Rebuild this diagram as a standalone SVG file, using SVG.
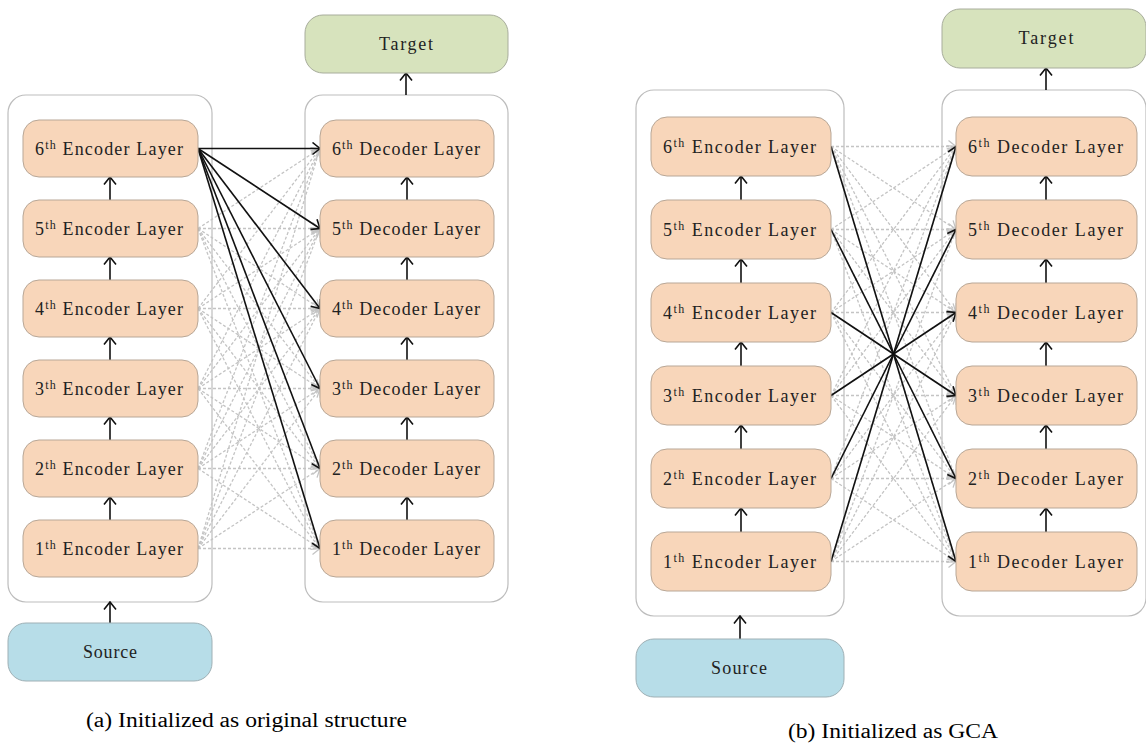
<svg xmlns="http://www.w3.org/2000/svg" width="1146" height="744" viewBox="0 0 1146 744">
<style>
.cont{fill:#fff;stroke:#bdbdbd;stroke-width:1.2}
.layer{fill:#f8d6ba;stroke:#b8a797;stroke-width:1}
.tgt{fill:#d7e3bd;stroke:#a8ad9c;stroke-width:1}
.src{fill:#b7dde8;stroke:#9fb0b5;stroke-width:1}
.lbl{font-family:"Liberation Serif","Times New Roman",serif;font-size:18px;fill:#222;text-anchor:middle}
.cap{font-family:"Liberation Serif","Times New Roman",serif;font-size:20px;fill:#000}
.solid{stroke:#111;stroke-width:1.6;fill:none}
.arr{marker-end:url(#ah)}
.dash{stroke:#c4c4c4;stroke-width:1.3;stroke-dasharray:3 2;fill:none;marker-end:url(#ahg)}
.up{stroke:#111;stroke-width:1.6;fill:none;marker-end:url(#ah)}
</style>
<defs>
<marker id="ah" viewBox="0 0 10 14" refX="8.5" refY="7" markerWidth="10" markerHeight="14" markerUnits="userSpaceOnUse" orient="auto">
<path d="M1,1 L8.5,7 L1,13" fill="none" stroke="#111" stroke-width="1.6"/>
</marker>
<marker id="ahg" viewBox="0 0 10 14" refX="8.5" refY="7" markerWidth="10" markerHeight="14" markerUnits="userSpaceOnUse" orient="auto">
<path d="M1,1 L8.5,7 L1,13" fill="none" stroke="#c4c4c4" stroke-width="1.3"/>
</marker>
</defs>
<rect width="1146" height="744" fill="#fff"/>

<!-- Panel (a) containers -->
<g id="a-encoder-stack"><rect class="cont" x="8" y="95" width="204" height="507" rx="18"/></g>
<g id="a-decoder-stack"><rect class="cont" x="305" y="95" width="203" height="507" rx="18"/></g>

<!-- Panel (b) containers -->
<g id="b-encoder-stack"><rect class="cont" x="636" y="90" width="208" height="526" rx="18"/></g>
<g id="b-decoder-stack"><rect class="cont" x="942" y="90" width="204" height="526" rx="18"/></g>

<!-- connectors -->
<g id="connectors">
<line class="dash" x1="198" y1="228.5" x2="320" y2="148.5"/>
<line class="dash" x1="198" y1="228.5" x2="320" y2="228.5"/>
<line class="dash" x1="198" y1="228.5" x2="320" y2="308.5"/>
<line class="dash" x1="198" y1="228.5" x2="320" y2="388.5"/>
<line class="dash" x1="198" y1="228.5" x2="320" y2="468.5"/>
<line class="dash" x1="198" y1="228.5" x2="320" y2="548.5"/>
<line class="dash" x1="198" y1="308.5" x2="320" y2="148.5"/>
<line class="dash" x1="198" y1="308.5" x2="320" y2="228.5"/>
<line class="dash" x1="198" y1="308.5" x2="320" y2="308.5"/>
<line class="dash" x1="198" y1="308.5" x2="320" y2="388.5"/>
<line class="dash" x1="198" y1="308.5" x2="320" y2="468.5"/>
<line class="dash" x1="198" y1="308.5" x2="320" y2="548.5"/>
<line class="dash" x1="198" y1="388.5" x2="320" y2="148.5"/>
<line class="dash" x1="198" y1="388.5" x2="320" y2="228.5"/>
<line class="dash" x1="198" y1="388.5" x2="320" y2="308.5"/>
<line class="dash" x1="198" y1="388.5" x2="320" y2="388.5"/>
<line class="dash" x1="198" y1="388.5" x2="320" y2="468.5"/>
<line class="dash" x1="198" y1="388.5" x2="320" y2="548.5"/>
<line class="dash" x1="198" y1="468.5" x2="320" y2="148.5"/>
<line class="dash" x1="198" y1="468.5" x2="320" y2="228.5"/>
<line class="dash" x1="198" y1="468.5" x2="320" y2="308.5"/>
<line class="dash" x1="198" y1="468.5" x2="320" y2="388.5"/>
<line class="dash" x1="198" y1="468.5" x2="320" y2="468.5"/>
<line class="dash" x1="198" y1="468.5" x2="320" y2="548.5"/>
<line class="dash" x1="198" y1="548.5" x2="320" y2="148.5"/>
<line class="dash" x1="198" y1="548.5" x2="320" y2="228.5"/>
<line class="dash" x1="198" y1="548.5" x2="320" y2="308.5"/>
<line class="dash" x1="198" y1="548.5" x2="320" y2="388.5"/>
<line class="dash" x1="198" y1="548.5" x2="320" y2="468.5"/>
<line class="dash" x1="198" y1="548.5" x2="320" y2="548.5"/>
<line class="solid arr" x1="198" y1="148.5" x2="320" y2="148.5"/>
<line class="solid arr" x1="198" y1="148.5" x2="320" y2="228.5"/>
<line class="solid arr" x1="198" y1="148.5" x2="320" y2="308.5"/>
<line class="solid arr" x1="198" y1="148.5" x2="320" y2="388.5"/>
<line class="solid arr" x1="198" y1="148.5" x2="320" y2="468.5"/>
<line class="solid arr" x1="198" y1="148.5" x2="320" y2="548.5"/>
<line class="up" x1="110" y1="200" x2="110" y2="177"/>
<line class="up" x1="110" y1="280" x2="110" y2="257"/>
<line class="up" x1="110" y1="360" x2="110" y2="337"/>
<line class="up" x1="110" y1="440" x2="110" y2="417"/>
<line class="up" x1="110" y1="520" x2="110" y2="497"/>
<line class="up" x1="407" y1="200" x2="407" y2="177"/>
<line class="up" x1="407" y1="280" x2="407" y2="257"/>
<line class="up" x1="407" y1="360" x2="407" y2="337"/>
<line class="up" x1="407" y1="440" x2="407" y2="417"/>
<line class="up" x1="407" y1="520" x2="407" y2="497"/>
<line class="up" x1="110" y1="623" x2="110" y2="602"/>
<line class="up" x1="406" y1="95" x2="406" y2="73"/>

<line class="dash" x1="831" y1="146.5" x2="956" y2="146.5"/>
<line class="dash" x1="831" y1="146.5" x2="956" y2="229.5"/>
<line class="dash" x1="831" y1="146.5" x2="956" y2="312.5"/>
<line class="dash" x1="831" y1="146.5" x2="956" y2="395.5"/>
<line class="dash" x1="831" y1="146.5" x2="956" y2="478.5"/>
<line class="dash" x1="831" y1="146.5" x2="956" y2="561.5"/>
<line class="dash" x1="831" y1="229.5" x2="956" y2="146.5"/>
<line class="dash" x1="831" y1="229.5" x2="956" y2="229.5"/>
<line class="dash" x1="831" y1="229.5" x2="956" y2="312.5"/>
<line class="dash" x1="831" y1="229.5" x2="956" y2="395.5"/>
<line class="dash" x1="831" y1="229.5" x2="956" y2="478.5"/>
<line class="dash" x1="831" y1="229.5" x2="956" y2="561.5"/>
<line class="dash" x1="831" y1="312.5" x2="956" y2="146.5"/>
<line class="dash" x1="831" y1="312.5" x2="956" y2="229.5"/>
<line class="dash" x1="831" y1="312.5" x2="956" y2="312.5"/>
<line class="dash" x1="831" y1="312.5" x2="956" y2="395.5"/>
<line class="dash" x1="831" y1="312.5" x2="956" y2="478.5"/>
<line class="dash" x1="831" y1="312.5" x2="956" y2="561.5"/>
<line class="dash" x1="831" y1="395.5" x2="956" y2="146.5"/>
<line class="dash" x1="831" y1="395.5" x2="956" y2="229.5"/>
<line class="dash" x1="831" y1="395.5" x2="956" y2="312.5"/>
<line class="dash" x1="831" y1="395.5" x2="956" y2="395.5"/>
<line class="dash" x1="831" y1="395.5" x2="956" y2="478.5"/>
<line class="dash" x1="831" y1="395.5" x2="956" y2="561.5"/>
<line class="dash" x1="831" y1="478.5" x2="956" y2="146.5"/>
<line class="dash" x1="831" y1="478.5" x2="956" y2="229.5"/>
<line class="dash" x1="831" y1="478.5" x2="956" y2="312.5"/>
<line class="dash" x1="831" y1="478.5" x2="956" y2="395.5"/>
<line class="dash" x1="831" y1="478.5" x2="956" y2="478.5"/>
<line class="dash" x1="831" y1="478.5" x2="956" y2="561.5"/>
<line class="dash" x1="831" y1="561.5" x2="956" y2="146.5"/>
<line class="dash" x1="831" y1="561.5" x2="956" y2="229.5"/>
<line class="dash" x1="831" y1="561.5" x2="956" y2="312.5"/>
<line class="dash" x1="831" y1="561.5" x2="956" y2="395.5"/>
<line class="dash" x1="831" y1="561.5" x2="956" y2="478.5"/>
<line class="dash" x1="831" y1="561.5" x2="956" y2="561.5"/>
<line class="solid" x1="831" y1="146.5" x2="893.5" y2="354"/>
<line class="solid" x1="831" y1="229.5" x2="893.5" y2="354"/>
<line class="solid" x1="831" y1="312.5" x2="893.5" y2="354"/>
<line class="solid" x1="831" y1="395.5" x2="893.5" y2="354"/>
<line class="solid" x1="831" y1="478.5" x2="893.5" y2="354"/>
<line class="solid" x1="831" y1="561.5" x2="893.5" y2="354"/>
<line class="solid arr" x1="893.5" y1="354" x2="956" y2="146.5"/>
<line class="solid arr" x1="893.5" y1="354" x2="956" y2="229.5"/>
<line class="solid arr" x1="893.5" y1="354" x2="956" y2="312.5"/>
<line class="solid arr" x1="893.5" y1="354" x2="956" y2="395.5"/>
<line class="solid arr" x1="893.5" y1="354" x2="956" y2="478.5"/>
<line class="solid arr" x1="893.5" y1="354" x2="956" y2="561.5"/>
<line class="up" x1="741" y1="200" x2="741" y2="176"/>
<line class="up" x1="741" y1="283" x2="741" y2="259"/>
<line class="up" x1="741" y1="366" x2="741" y2="342"/>
<line class="up" x1="741" y1="449" x2="741" y2="425"/>
<line class="up" x1="741" y1="532" x2="741" y2="508"/>
<line class="up" x1="1046" y1="200" x2="1046" y2="176"/>
<line class="up" x1="1046" y1="283" x2="1046" y2="259"/>
<line class="up" x1="1046" y1="366" x2="1046" y2="342"/>
<line class="up" x1="1046" y1="449" x2="1046" y2="425"/>
<line class="up" x1="1046" y1="532" x2="1046" y2="508"/>
<line class="up" x1="740" y1="639" x2="740" y2="616"/>
<line class="up" x1="1046" y1="90" x2="1046" y2="68"/>
</g>

<g id="a-target"><rect class="tgt" x="305" y="15" width="203" height="58" rx="18"/><text class="lbl" x="406" y="50" textLength="54" lengthAdjust="spacing">Target</text></g>
<g id="a-source"><rect class="src" x="8" y="623" width="204" height="58" rx="18"/><text class="lbl" x="110" y="658" textLength="54" lengthAdjust="spacing">Source</text></g>

<g id="a-enc6"><rect class="layer" x="23" y="120" width="175" height="57" rx="16"/><text class="lbl" x="109" y="154.5" textLength="148" lengthAdjust="spacing">6<tspan font-size="12" dy="-6">th</tspan><tspan dy="6"> Encoder Layer</tspan></text></g>
<g id="a-enc5"><rect class="layer" x="23" y="200" width="175" height="57" rx="16"/><text class="lbl" x="109" y="234.5" textLength="148" lengthAdjust="spacing">5<tspan font-size="12" dy="-6">th</tspan><tspan dy="6"> Encoder Layer</tspan></text></g>
<g id="a-enc4"><rect class="layer" x="23" y="280" width="175" height="57" rx="16"/><text class="lbl" x="109" y="314.5" textLength="148" lengthAdjust="spacing">4<tspan font-size="12" dy="-6">th</tspan><tspan dy="6"> Encoder Layer</tspan></text></g>
<g id="a-enc3"><rect class="layer" x="23" y="360" width="175" height="57" rx="16"/><text class="lbl" x="109" y="394.5" textLength="148" lengthAdjust="spacing">3<tspan font-size="12" dy="-6">th</tspan><tspan dy="6"> Encoder Layer</tspan></text></g>
<g id="a-enc2"><rect class="layer" x="23" y="440" width="175" height="57" rx="16"/><text class="lbl" x="109" y="474.5" textLength="148" lengthAdjust="spacing">2<tspan font-size="12" dy="-6">th</tspan><tspan dy="6"> Encoder Layer</tspan></text></g>
<g id="a-enc1"><rect class="layer" x="23" y="520" width="175" height="57" rx="16"/><text class="lbl" x="109" y="554.5" textLength="148" lengthAdjust="spacing">1<tspan font-size="12" dy="-6">th</tspan><tspan dy="6"> Encoder Layer</tspan></text></g>

<g id="a-dec6"><rect class="layer" x="320" y="120" width="174" height="57" rx="16"/><text class="lbl" x="406" y="154.5" textLength="148" lengthAdjust="spacing">6<tspan font-size="12" dy="-6">th</tspan><tspan dy="6"> Decoder Layer</tspan></text></g>
<g id="a-dec5"><rect class="layer" x="320" y="200" width="174" height="57" rx="16"/><text class="lbl" x="406" y="234.5" textLength="148" lengthAdjust="spacing">5<tspan font-size="12" dy="-6">th</tspan><tspan dy="6"> Decoder Layer</tspan></text></g>
<g id="a-dec4"><rect class="layer" x="320" y="280" width="174" height="57" rx="16"/><text class="lbl" x="406" y="314.5" textLength="148" lengthAdjust="spacing">4<tspan font-size="12" dy="-6">th</tspan><tspan dy="6"> Decoder Layer</tspan></text></g>
<g id="a-dec3"><rect class="layer" x="320" y="360" width="174" height="57" rx="16"/><text class="lbl" x="406" y="394.5" textLength="148" lengthAdjust="spacing">3<tspan font-size="12" dy="-6">th</tspan><tspan dy="6"> Decoder Layer</tspan></text></g>
<g id="a-dec2"><rect class="layer" x="320" y="440" width="174" height="57" rx="16"/><text class="lbl" x="406" y="474.5" textLength="148" lengthAdjust="spacing">2<tspan font-size="12" dy="-6">th</tspan><tspan dy="6"> Decoder Layer</tspan></text></g>
<g id="a-dec1"><rect class="layer" x="320" y="520" width="174" height="57" rx="16"/><text class="lbl" x="406" y="554.5" textLength="148" lengthAdjust="spacing">1<tspan font-size="12" dy="-6">th</tspan><tspan dy="6"> Decoder Layer</tspan></text></g>

<g id="b-target"><rect class="tgt" x="942" y="9" width="204" height="59" rx="18"/><text class="lbl" x="1046" y="44" textLength="55" lengthAdjust="spacing">Target</text></g>
<g id="b-source"><rect class="src" x="636" y="639" width="208" height="58" rx="18"/><text class="lbl" x="739" y="674" textLength="56" lengthAdjust="spacing">Source</text></g>

<g id="b-enc6"><rect class="layer" x="651" y="117" width="180" height="59" rx="16"/><text class="lbl" x="739.5" y="152.5" textLength="153" lengthAdjust="spacing">6<tspan font-size="12" dy="-6">th</tspan><tspan dy="6"> Encoder Layer</tspan></text></g>
<g id="b-enc5"><rect class="layer" x="651" y="200" width="180" height="59" rx="16"/><text class="lbl" x="739.5" y="235.5" textLength="153" lengthAdjust="spacing">5<tspan font-size="12" dy="-6">th</tspan><tspan dy="6"> Encoder Layer</tspan></text></g>
<g id="b-enc4"><rect class="layer" x="651" y="283" width="180" height="59" rx="16"/><text class="lbl" x="739.5" y="318.5" textLength="153" lengthAdjust="spacing">4<tspan font-size="12" dy="-6">th</tspan><tspan dy="6"> Encoder Layer</tspan></text></g>
<g id="b-enc3"><rect class="layer" x="651" y="366" width="180" height="59" rx="16"/><text class="lbl" x="739.5" y="401.5" textLength="153" lengthAdjust="spacing">3<tspan font-size="12" dy="-6">th</tspan><tspan dy="6"> Encoder Layer</tspan></text></g>
<g id="b-enc2"><rect class="layer" x="651" y="449" width="180" height="59" rx="16"/><text class="lbl" x="739.5" y="484.5" textLength="153" lengthAdjust="spacing">2<tspan font-size="12" dy="-6">th</tspan><tspan dy="6"> Encoder Layer</tspan></text></g>
<g id="b-enc1"><rect class="layer" x="651" y="532" width="180" height="59" rx="16"/><text class="lbl" x="739.5" y="567.5" textLength="153" lengthAdjust="spacing">1<tspan font-size="12" dy="-6">th</tspan><tspan dy="6"> Encoder Layer</tspan></text></g>

<g id="b-dec6"><rect class="layer" x="956" y="117" width="181" height="59" rx="16"/><text class="lbl" x="1045.5" y="152.5" textLength="155" lengthAdjust="spacing">6<tspan font-size="12" dy="-6">th</tspan><tspan dy="6"> Decoder Layer</tspan></text></g>
<g id="b-dec5"><rect class="layer" x="956" y="200" width="181" height="59" rx="16"/><text class="lbl" x="1045.5" y="235.5" textLength="155" lengthAdjust="spacing">5<tspan font-size="12" dy="-6">th</tspan><tspan dy="6"> Decoder Layer</tspan></text></g>
<g id="b-dec4"><rect class="layer" x="956" y="283" width="181" height="59" rx="16"/><text class="lbl" x="1045.5" y="318.5" textLength="155" lengthAdjust="spacing">4<tspan font-size="12" dy="-6">th</tspan><tspan dy="6"> Decoder Layer</tspan></text></g>
<g id="b-dec3"><rect class="layer" x="956" y="366" width="181" height="59" rx="16"/><text class="lbl" x="1045.5" y="401.5" textLength="155" lengthAdjust="spacing">3<tspan font-size="12" dy="-6">th</tspan><tspan dy="6"> Decoder Layer</tspan></text></g>
<g id="b-dec2"><rect class="layer" x="956" y="449" width="181" height="59" rx="16"/><text class="lbl" x="1045.5" y="484.5" textLength="155" lengthAdjust="spacing">2<tspan font-size="12" dy="-6">th</tspan><tspan dy="6"> Decoder Layer</tspan></text></g>
<g id="b-dec1"><rect class="layer" x="956" y="532" width="181" height="59" rx="16"/><text class="lbl" x="1045.5" y="567.5" textLength="155" lengthAdjust="spacing">1<tspan font-size="12" dy="-6">th</tspan><tspan dy="6"> Decoder Layer</tspan></text></g>

<text class="cap" x="86" y="727" textLength="321" lengthAdjust="spacingAndGlyphs">(a) Initialized as original structure</text>
<text class="cap" x="788" y="738" textLength="210" lengthAdjust="spacingAndGlyphs">(b) Initialized as GCA</text>
</svg>
